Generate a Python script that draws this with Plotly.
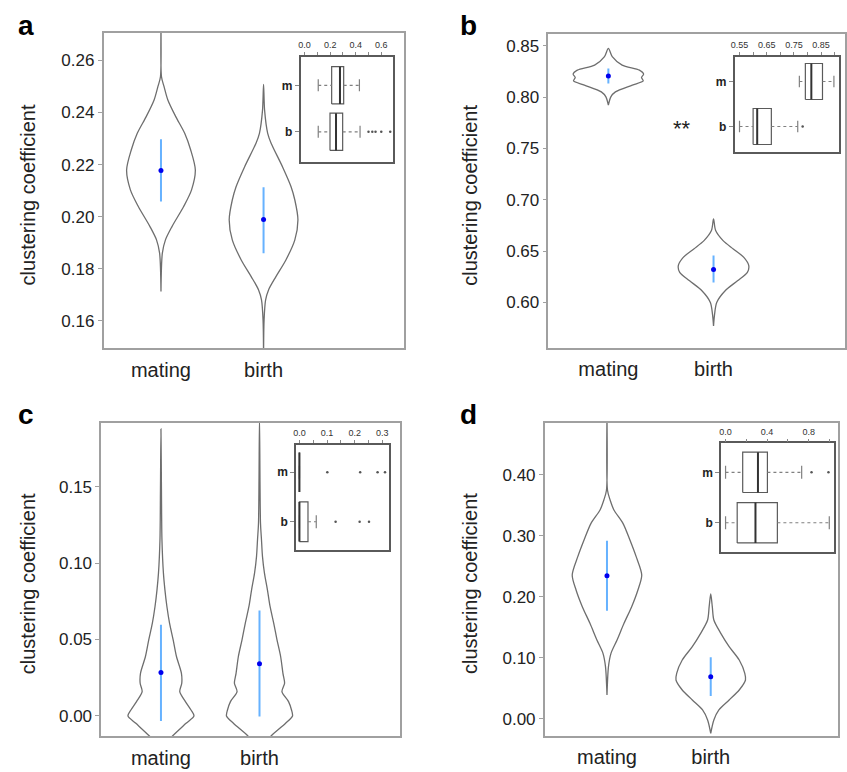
import plotly.graph_objects as go

W, H = 847, 772

# ---------------- data ----------------
groups = ["mating", "birth"]
inset_groups = ["m", "b"]

# violin outlines: y levels and relative density (1 = widest)
a_mat_y = [0.2750, 0.2537, 0.2499, 0.2448, 0.2384, 0.2320, 0.2256, 0.2179, 0.2103, 0.2039, 0.1962, 0.1911, 0.1860, 0.1713]
a_mat_d = [0, 0.015, 0.09, 0.20, 0.43, 0.69, 0.865, 1.0, 0.89, 0.66, 0.32, 0.13, 0.04, 0]
a_bir_y = [0.2508, 0.2409, 0.2320, 0.2282, 0.2192, 0.2115, 0.2064, 0.1988, 0.1911, 0.1834, 0.1770, 0.1719, 0.1681, 0.1604, 0.1450]
a_bir_d = [0, 0.03, 0.12, 0.22, 0.55, 0.80, 0.91, 1.0, 0.91, 0.65, 0.36, 0.145, 0.06, 0.015, 0]

b_mat_y = [0.8474, 0.8393, 0.8311, 0.8262, 0.8223, 0.8190, 0.8158, 0.8116, 0.8050, 0.8002, 0.7920]
b_mat_d = [0, 0.11, 0.39, 0.88, 1.0, 0.94, 0.99, 0.68, 0.20, 0.07, 0]
b_bir_y = [0.6813, 0.6699, 0.6601, 0.6520, 0.6438, 0.6357, 0.6292, 0.6210, 0.6113, 0.5999, 0.5885, 0.5771]
b_bir_d = [0, 0.06, 0.27, 0.56, 0.86, 1.0, 0.96, 0.68, 0.33, 0.09, 0.03, 0]

c_mat_y = [0.1877, 0.148, 0.1153, 0.0934, 0.0825, 0.0716, 0.0607, 0.0498, 0.0389, 0.0279, 0.0214, 0.0159, 0.0094, 0.0039, 0.0, -0.0048, -0.0131, -0.0212]
c_mat_d = [0, 0.015, 0.03, 0.075, 0.12, 0.18, 0.26, 0.37, 0.47, 0.62, 0.63, 0.57, 0.74, 0.91, 1.0, 0.76, 0.35, 0]
c_bir_y = [0.195, 0.1262, 0.1153, 0.1044, 0.0934, 0.0825, 0.0716, 0.0607, 0.0498, 0.0389, 0.0279, 0.0214, 0.0159, 0.0094, 0.0039, 0.0, -0.0048, -0.0131, -0.0212]
c_bir_d = [0, 0.03, 0.06, 0.09, 0.15, 0.24, 0.32, 0.43, 0.53, 0.64, 0.71, 0.76, 0.68, 0.88, 0.97, 1.0, 0.79, 0.35, 0]

d_mat_y = [0.50, 0.375, 0.3590, 0.3426, 0.3207, 0.2934, 0.2661, 0.2360, 0.2115, 0.1841, 0.1568, 0.1295, 0.1076, 0.0858, 0.0393]
d_mat_d = [0, 0.015, 0.09, 0.20, 0.46, 0.66, 0.84, 1.0, 0.89, 0.71, 0.49, 0.29, 0.115, 0.043, 0]
d_bir_y = [0.2049, 0.1841, 0.1623, 0.1404, 0.1186, 0.0967, 0.0749, 0.0639, 0.0475, 0.0311, 0.0148, -0.0016, -0.0235]
d_bir_d = [0, 0.045, 0.09, 0.29, 0.53, 0.82, 0.98, 1.0, 0.82, 0.53, 0.235, 0.09, 0]

# means and spread bars (mating, birth)
a_mean = [0.2177, 0.1989]; a_lo = [0.2058, 0.1860]; a_hi = [0.2297, 0.2113]
b_mean = [0.8204, 0.6321]; b_lo = [0.8132, 0.6194]; b_hi = [0.8279, 0.6455]
c_mean = [0.0284, 0.0341]; c_lo = [-0.0033, -0.0004]; c_hi = [0.0596, 0.0690]
d_mean = [0.2350, 0.0694]; d_lo = [0.1776, 0.0377]; d_hi = [0.2923, 0.1011]

# inset box stats (m, b): lower whisker, q1, median, q3, upper whisker
a_box_lo = [0.107, 0.107]; a_box_q1 = [0.212, 0.199]; a_box_med = [0.277, 0.246]; a_box_q3 = [0.306, 0.298]; a_box_hi = [0.429, 0.434]
a_out_m = []; a_out_b = [0.50, 0.53, 0.555, 0.60, 0.67]
b_box_lo = [0.770, 0.550]; b_box_q1 = [0.792, 0.600]; b_box_med = [0.814, 0.615]; b_box_q3 = [0.855, 0.667]; b_box_hi = [0.897, 0.764]
b_out_m = []; b_out_b = [0.782]
c_box_lo = [0.0, 0.0]; c_box_q1 = [0.0, 0.0]; c_box_med = [0.0, 0.0]; c_box_q3 = [0.0, 0.031]; c_box_hi = [0.0, 0.061]
c_out_m = [0.101, 0.220, 0.283, 0.310]; c_out_b = [0.131, 0.218, 0.252]
d_box_lo = [0.0, 0.0]; d_box_q1 = [0.165, 0.112]; d_box_med = [0.312, 0.288]; d_box_q3 = [0.403, 0.499]; d_box_hi = [0.733, 0.999]
d_out_m = [0.828, 0.991]; d_out_b = []

# tick labels
a_yticks = [0.16, 0.18, 0.20, 0.22, 0.24, 0.26]
b_yticks = [0.60, 0.65, 0.70, 0.75, 0.80, 0.85]
c_yticks = [0.00, 0.05, 0.10, 0.15]
d_yticks = [0.00, 0.10, 0.20, 0.30, 0.40]
a_inset_ticks = [0.0, 0.1, 0.2, 0.3, 0.4, 0.5, 0.6]; a_inset_labels = ["0.0", "", "0.2", "", "0.4", "", "0.6"]
b_inset_ticks = [0.55, 0.60, 0.65, 0.70, 0.75, 0.80, 0.85, 0.90]; b_inset_labels = ["0.55", "", "0.65", "", "0.75", "", "0.85", ""]
c_inset_ticks = [0.0, 0.05, 0.1, 0.15, 0.2, 0.25, 0.3]; c_inset_labels = ["0.0", "", "0.1", "", "0.2", "", "0.3"]
d_inset_ticks = [0.0, 0.2, 0.4, 0.6, 0.8, 1.0]; d_inset_labels = ["0.0", "", "0.4", "", "0.8", ""]

# ---------------- styles / layout geometry ----------------
HW = 0.335          # max violin half-width (x units)
BOX_H = 0.4         # inset box half-height
CAP_H = 0.13
FRAME = "#a0a0a0"
OUTLINE = "#6e6e6e"
INFR = "#5a5a5a"
TXT = "#222222"
FONT = "Liberation Sans, Arial, sans-serif"

def xd(p0, p1):
    return [p0 / W, p1 / W]

def yd(p0, p1):
    return [1 - p1 / H, 1 - p0 / H]

panels = [
    dict(key="a", vio=[(a_mat_y, a_mat_d), (a_bir_y, a_bir_d)], mean=a_mean, lo=a_lo, hi=a_hi,
         xr=[0.44, 3.37], yr=[0.1496, 0.2705], yt=a_yticks, dom=(100, 402, 33, 348),
         box=(a_box_lo, a_box_q1, a_box_med, a_box_q3, a_box_hi), outs=(a_out_m, a_out_b),
         ixr=[-0.031, 0.689], iyr=[0.35, 2.62], it=a_inset_ticks, il=a_inset_labels,
         idom=(298, 390.5, 56.5, 162)),
    dict(key="b", vio=[(b_mat_y, b_mat_d), (b_bir_y, b_bir_d)], mean=b_mean, lo=b_lo, hi=b_hi,
         xr=[0.43, 3.25], yr=[0.5558, 0.8611], yt=b_yticks, dom=(547, 845, 34.3, 347.7),
         box=(b_box_lo, b_box_q1, b_box_med, b_box_q3, b_box_hi), outs=(b_out_m, b_out_b),
         ixr=[0.5317, 0.914], iyr=[0.44, 2.555], it=b_inset_ticks, il=b_inset_labels,
         idom=(734, 838.5, 56.5, 151.7)),
    dict(key="c", vio=[(c_mat_y, c_mat_d), (c_bir_y, c_bir_d)], mean=c_mean, lo=c_lo, hi=c_hi,
         xr=[0.394, 3.43], yr=[-0.0131, 0.1918], yt=c_yticks, dom=(97.7, 398.3, 422.7, 736),
         box=(c_box_lo, c_box_q1, c_box_med, c_box_q3, c_box_hi), outs=(c_out_m, c_out_b),
         ixr=[-0.012, 0.324], iyr=[0.43, 2.56], it=c_inset_ticks, il=c_inset_labels,
         idom=(293.5, 386.7, 444.5, 550)),
    dict(key="d", vio=[(d_mat_y, d_mat_d), (d_bir_y, d_bir_d)], mean=d_mean, lo=d_lo, hi=d_hi,
         xr=[0.40, 3.23], yr=[-0.0274, 0.4857], yt=d_yticks, dom=(543.3, 838.3, 422.7, 735.7),
         box=(d_box_lo, d_box_q1, d_box_med, d_box_q3, d_box_hi), outs=(d_out_m, d_out_b),
         ixr=[-0.043, 1.045], iyr=[0.42, 2.575], it=d_inset_ticks, il=d_inset_labels,
         idom=(720.5, 834, 443.3, 552)),
]

fig = go.Figure()
layout = dict(width=W, height=H, margin=dict(l=0, r=0, t=0, b=0), showlegend=False,
              plot_bgcolor="white", paper_bgcolor="white", font=dict(family=FONT, color=TXT))
annotations = []

for i, P in enumerate(panels):
    n = i + 1
    ni = i + 5
    xa, ya = ("x" if n == 1 else f"x{n}"), ("y" if n == 1 else f"y{n}")
    xi, yi = f"x{ni}", f"y{ni}"

    # violins
    for pos, (yy, dd) in enumerate(P["vio"], start=1):
        xs = [pos + d * HW for d in dd] + [pos - d * HW for d in reversed(dd)]
        ys = list(yy) + list(reversed(yy))
        fig.add_trace(go.Scatter(x=xs, y=ys, mode="lines", xaxis=xa, yaxis=ya,
                                 line=dict(color=OUTLINE, width=1.3, shape="spline", smoothing=0.8),
                                 hoverinfo="skip"))
    # spread bars and means
    for pos in (1, 2):
        fig.add_trace(go.Scatter(x=[pos, pos], y=[P["lo"][pos - 1], P["hi"][pos - 1]], mode="lines",
                                 xaxis=xa, yaxis=ya, line=dict(color="#66b2ff", width=2)))
    fig.add_trace(go.Scatter(x=[1, 2], y=P["mean"], mode="markers", xaxis=xa, yaxis=ya,
                             marker=dict(color="#0000ee", size=5)))

    # inset boxes
    lo, q1, med, q3, hi = P["box"]
    for j, p in enumerate((2, 1)):
        rect_x = [q1[j], q3[j], q3[j], q1[j], q1[j]]
        rect_y = [p - BOX_H, p - BOX_H, p + BOX_H, p + BOX_H, p - BOX_H]
        fig.add_trace(go.Scatter(x=rect_x, y=rect_y, mode="lines", xaxis=xi, yaxis=yi,
                                 line=dict(color=INFR, width=1.2)))
        fig.add_trace(go.Scatter(x=[lo[j], q1[j], None, q3[j], hi[j]], y=[p, p, None, p, p],
                                 mode="lines", xaxis=xi, yaxis=yi,
                                 line=dict(color="#808080", width=1.2, dash="dot")))
        fig.add_trace(go.Scatter(x=[lo[j], lo[j], None, hi[j], hi[j]],
                                 y=[p - CAP_H, p + CAP_H, None, p - CAP_H, p + CAP_H],
                                 mode="lines", xaxis=xi, yaxis=yi,
                                 line=dict(color="#808080", width=1.2)))
        fig.add_trace(go.Scatter(x=[med[j], med[j]], y=[p - BOX_H, p + BOX_H], mode="lines",
                                 xaxis=xi, yaxis=yi, line=dict(color="#333333", width=2)))
        outs = P["outs"][j]
        if outs:
            fig.add_trace(go.Scatter(x=outs, y=[p] * len(outs), mode="markers", xaxis=xi, yaxis=yi,
                                     marker=dict(color="#555555", size=2.5)))

    x0, x1, y0, y1 = P["dom"]
    layout[f"xaxis{'' if n == 1 else n}"] = dict(
        domain=xd(x0, x1), range=P["xr"], anchor=ya, showline=True, mirror=True,
        linecolor=FRAME, linewidth=1.5, showgrid=False, zeroline=False,
        tickvals=[1, 2], ticktext=groups, ticks="", tickfont=dict(size=20, color=TXT),
        ticklabelstandoff=3)
    layout[f"yaxis{'' if n == 1 else n}"] = dict(
        domain=yd(y0, y1), range=P["yr"], anchor=xa, showline=True, mirror=True,
        linecolor=FRAME, linewidth=1.5, showgrid=False, zeroline=False,
        tickvals=P["yt"], tickformat=".2f", ticks="outside", ticklen=4, tickcolor=FRAME,
        tickfont=dict(size=17, color=TXT))

    ix0, ix1, iy0, iy1 = P["idom"]
    layout[f"xaxis{ni}"] = dict(
        domain=xd(ix0, ix1), range=P["ixr"], anchor=yi, side="top", showline=True, mirror=True,
        linecolor=INFR, linewidth=1.5, showgrid=False, zeroline=False,
        tickvals=P["it"], ticktext=P["il"], ticks="outside", ticklen=3, tickcolor="#888888",
        tickfont=dict(size=9, color="#333333"))
    layout[f"yaxis{ni}"] = dict(
        domain=yd(iy0, iy1), range=P["iyr"], anchor=xi, showline=True, mirror=True,
        linecolor=INFR, linewidth=1.5, showgrid=False, zeroline=False,
        tickvals=[2, 1], ticktext=inset_groups, ticks="outside", ticklen=4, tickcolor="#888888",
        tickfont=dict(size=12, color="#222222", weight="bold"))

    # y-axis title and panel letter
    tx = 24 if P["key"] in ("a", "c") else 468
    ty = (y0 + y1) / 2 + 4
    annotations.append(dict(text="clustering coefficient", x=tx / W, y=1 - ty / H, xref="paper",
                            yref="paper", showarrow=False, textangle=-90, xanchor="center",
                            yanchor="middle", font=dict(size=20, color=TXT)))
    lx = 22 if P["key"] in ("a", "c") else 467
    ly = 25 if P["key"] in ("a", "b") else 414
    annotations.append(dict(text=P["key"], x=lx / W, y=1 - ly / H, xref="paper", yref="paper",
                            showarrow=False, xanchor="center", yanchor="middle",
                            font=dict(size=28, color="black", weight="bold")))

annotations.append(dict(text="**", x=681 / W, y=1 - 128 / H, xref="paper", yref="paper",
                        showarrow=False, xanchor="center", yanchor="middle",
                        font=dict(size=22, color=TXT)))
layout["annotations"] = annotations
fig.update_layout(**layout)
fig.write_html("out.html", config={"displayModeBar": False},
               post_script="document.body.style.margin='0px';document.body.style.padding='0px';"
                           "document.body.style.overflow='hidden';")
